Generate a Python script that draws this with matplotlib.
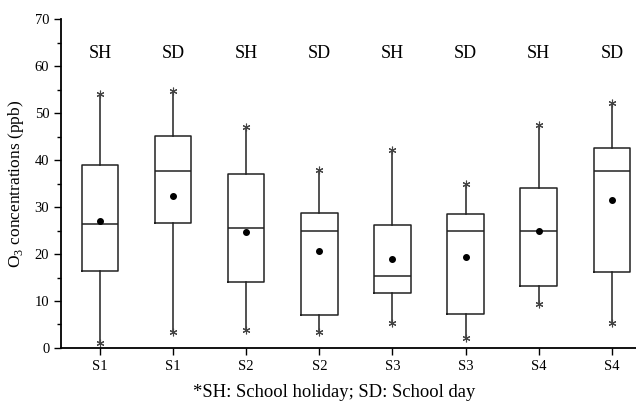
import matplotlib
matplotlib.use('Agg')
from matplotlib import pyplot as plt
from matplotlib.ticker import MultipleLocator

# O3 box statistics per site and day type (ppb)
sites = ['S1', 'S1', 'S2', 'S2', 'S3', 'S3', 'S4', 'S4']
day_type = ['SH', 'SD', 'SH', 'SD', 'SH', 'SD', 'SH', 'SD']
whis_lo = [1.0, 3.3, 3.9, 3.3, 5.3, 2.2, 9.3, 5.3]
q1 = [16.4, 26.7, 14.0, 7.0, 11.6, 7.3, 13.3, 16.2]
median = [26.3, 37.7, 25.5, 24.8, 15.3, 25.0, 24.9, 37.7]
q3 = [39.0, 45.2, 37.0, 28.7, 26.2, 28.6, 34.1, 42.5]
whis_hi = [54.0, 54.7, 47.0, 37.9, 42.1, 34.8, 47.4, 52.1]
mean = [27.0, 32.4, 24.7, 20.7, 18.9, 19.3, 24.8, 31.6]

plt.rcParams['font.family'] = ['Liberation Serif', 'DejaVu Serif']
plt.rcParams['mathtext.fontset'] = 'custom'
plt.rcParams['mathtext.rm'] = 'Liberation Serif'

fig = plt.figure(figsize=(6.36, 4.07), dpi=100)
ax = fig.add_axes([0.096, 0.145, 0.904, 0.808])

stats = []
for i in range(len(sites)):
    stats.append({'whislo': whis_lo[i], 'q1': q1[i], 'med': median[i], 'q3': q3[i],
                  'whishi': whis_hi[i], 'mean': mean[i], 'fliers': []})
pos = list(range(1, len(sites) + 1))
lw = 1.1
ax.bxp(stats, positions=pos, widths=0.5, showmeans=True, showcaps=False,
       boxprops=dict(color='#222222', linewidth=lw),
       medianprops=dict(color='#222222', linewidth=lw),
       whiskerprops=dict(color='#222222', linewidth=lw),
       meanprops=dict(marker='o', markerfacecolor='black', markeredgecolor='black', markersize=4))
# asterisk markers at whisker ends
ax.plot(pos, whis_hi, ls='none', marker=(6, 2, 0), ms=5.5, color='#444444', mew=0.8)
ax.plot(pos, whis_lo, ls='none', marker=(6, 2, 0), ms=5.5, color='#444444', mew=0.8)

for i, t in enumerate(day_type):
    ax.text(pos[i], 62.6, t, ha='center', va='center', fontsize=13)

ax.set_xlim(0.47, 8.33)
ax.set_ylim(0, 70)
ax.set_xticks(pos)
ax.set_xticklabels(sites, fontsize=10.5)
ax.yaxis.set_major_locator(MultipleLocator(10))
ax.yaxis.set_minor_locator(MultipleLocator(5))
ax.tick_params(axis='y', which='major', direction='out', length=5, width=1, labelsize=10.5)
ax.tick_params(axis='y', which='minor', direction='out', length=3, width=1)
ax.tick_params(axis='x', which='major', direction='out', length=5, width=1, pad=4)
ax.spines['top'].set_visible(False)
ax.spines['right'].set_visible(False)
ax.spines['left'].set_linewidth(1.3)
ax.spines['bottom'].set_linewidth(1.3)
ax.set_ylabel(r'O$_3$ concentrations (ppb)', fontsize=12.5, labelpad=6)

fig.text(0.525, 0.035, '*SH: School holiday; SD: School day', ha='center', va='center', fontsize=13.4)

fig.savefig('out.png', dpi=100)
